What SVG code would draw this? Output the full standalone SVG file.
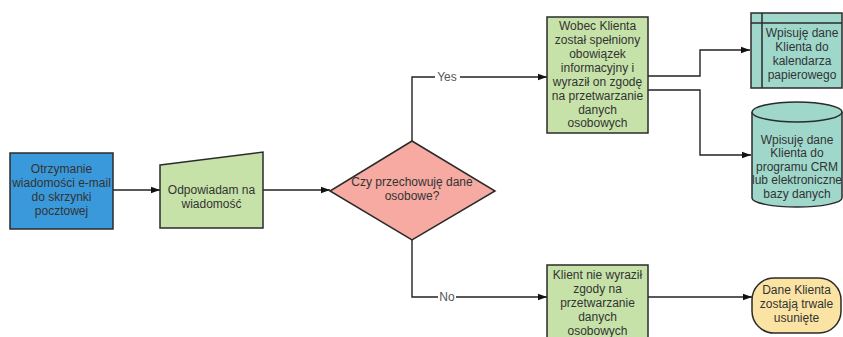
<svg xmlns="http://www.w3.org/2000/svg" width="843" height="337" viewBox="0 0 843 337">
<style>
.s{stroke:#2b2b2b;stroke-width:1.5}
.t{font-family:"Liberation Sans",Arial,sans-serif;font-size:12px;fill:#333;text-anchor:middle}
.c{fill:none;stroke:#222;stroke-width:1.4}
.l{font-family:"Liberation Sans",Arial,sans-serif;font-size:12px;fill:#555;text-anchor:middle}
</style>
<defs>
<marker id="a" viewBox="0 0 10 10" refX="10" refY="5" markerWidth="9" markerHeight="9" markerUnits="userSpaceOnUse" orient="auto"><path d="M0,1.5 L10,5 L0,8.5 z" fill="#111"/></marker>
</defs>
<rect width="843" height="337" fill="#fff"/>
<g id="connectors">
<path class="c" d="M113,190 H160" marker-end="url(#a)"/>
<path class="c" d="M263,190 H330" marker-end="url(#a)"/>
<path class="c" d="M412,141 V77 H547" marker-end="url(#a)"/>
<path class="c" d="M412,240 V297 H547" marker-end="url(#a)"/>
<path class="c" d="M648,76 H700 V50 H750" marker-end="url(#a)"/>
<path class="c" d="M648,90 H700 V155 H751" marker-end="url(#a)"/>
<path class="c" d="M648,297 H752" marker-end="url(#a)"/>
<rect x="435" y="70" width="25" height="14" fill="#fff"/>
<text class="l" x="447" y="81">Yes</text>
<rect x="438" y="290" width="18" height="14" fill="#fff"/>
<text class="l" x="447" y="301">No</text>
</g>
<g id="n1">
<rect class="s" x="10" y="153" width="103" height="76" fill="#3a99da"/>
<text class="t" x="61.5" y="173">Otrzymanie</text>
<text class="t" x="61.5" y="187">wiadomości e-mail</text>
<text class="t" x="61.5" y="201">do skrzynki</text>
<text class="t" x="61.5" y="215">pocztowej</text>
</g>
<g id="n2">
<path class="s" d="M160,165 L263,152 V228 H160 Z" fill="#c6e2a8"/>
<text class="t" x="211.5" y="194">Odpowiadam na</text>
<text class="t" x="211.5" y="208">wiadomość</text>
</g>
<g id="n3">
<path class="s" d="M412,141 L495,191 L412,240 L330,191 Z" fill="#f6aaa2"/>
<text class="t" x="412" y="186">Czy przechowuję dane</text>
<text class="t" x="412" y="200">osobowe?</text>
</g>
<g id="n4">
<rect class="s" x="547" y="17" width="101" height="116" fill="#c6e2a8"/>
<text class="t" x="597.5" y="30">Wobec Klienta</text>
<text class="t" x="597.5" y="44">został spełniony</text>
<text class="t" x="597.5" y="58">obowiązek</text>
<text class="t" x="597.5" y="72">informacyjny i</text>
<text class="t" x="597.5" y="86">wyraził on zgodę</text>
<text class="t" x="597.5" y="100">na przetwarzanie</text>
<text class="t" x="597.5" y="114">danych</text>
<text class="t" x="597.5" y="127">osobowych</text>
</g>
<g id="n5">
<rect class="s" x="751" y="13" width="91" height="75" fill="#9fd8cb"/>
<path class="s" d="M762,13 V88 M751,23 H842" fill="none"/>
<text class="t" x="802" y="37">Wpisuję dane</text>
<text class="t" x="802" y="51">Klienta do</text>
<text class="t" x="802" y="65">kalendarza</text>
<text class="t" x="802" y="79">papierowego</text>
</g>
<g id="n6">
<path class="s" d="M752,112 V198 A45,9 0 0 0 842,198 V112" fill="#9fd8cb"/>
<ellipse class="s" cx="797" cy="112" rx="45" ry="10" fill="#9fd8cb"/>
<text class="t" x="797" y="144">Wpisuję dane</text>
<text class="t" x="797" y="157">Klienta do</text>
<text class="t" x="797" y="171">programu CRM</text>
<text class="t" x="797" y="184">lub elektroniczne</text>
<text class="t" x="797" y="198">bazy danych</text>
</g>
<g id="n7">
<rect class="s" x="547" y="265" width="101" height="80" fill="#c6e2a8"/>
<text class="t" x="597.5" y="279">Klient nie wyraził</text>
<text class="t" x="597.5" y="293">zgody na</text>
<text class="t" x="597.5" y="307">przetwarzanie</text>
<text class="t" x="597.5" y="321">danych</text>
<text class="t" x="597.5" y="335">osobowych</text>
</g>
<g id="n8">
<rect class="s" x="752" y="278" width="89" height="55" rx="22" ry="22" fill="#fbe3a4"/>
<text class="t" x="796.5" y="294">Dane Klienta</text>
<text class="t" x="796.5" y="308">zostają trwale</text>
<text class="t" x="796.5" y="322">usunięte</text>
</g>
</svg>
